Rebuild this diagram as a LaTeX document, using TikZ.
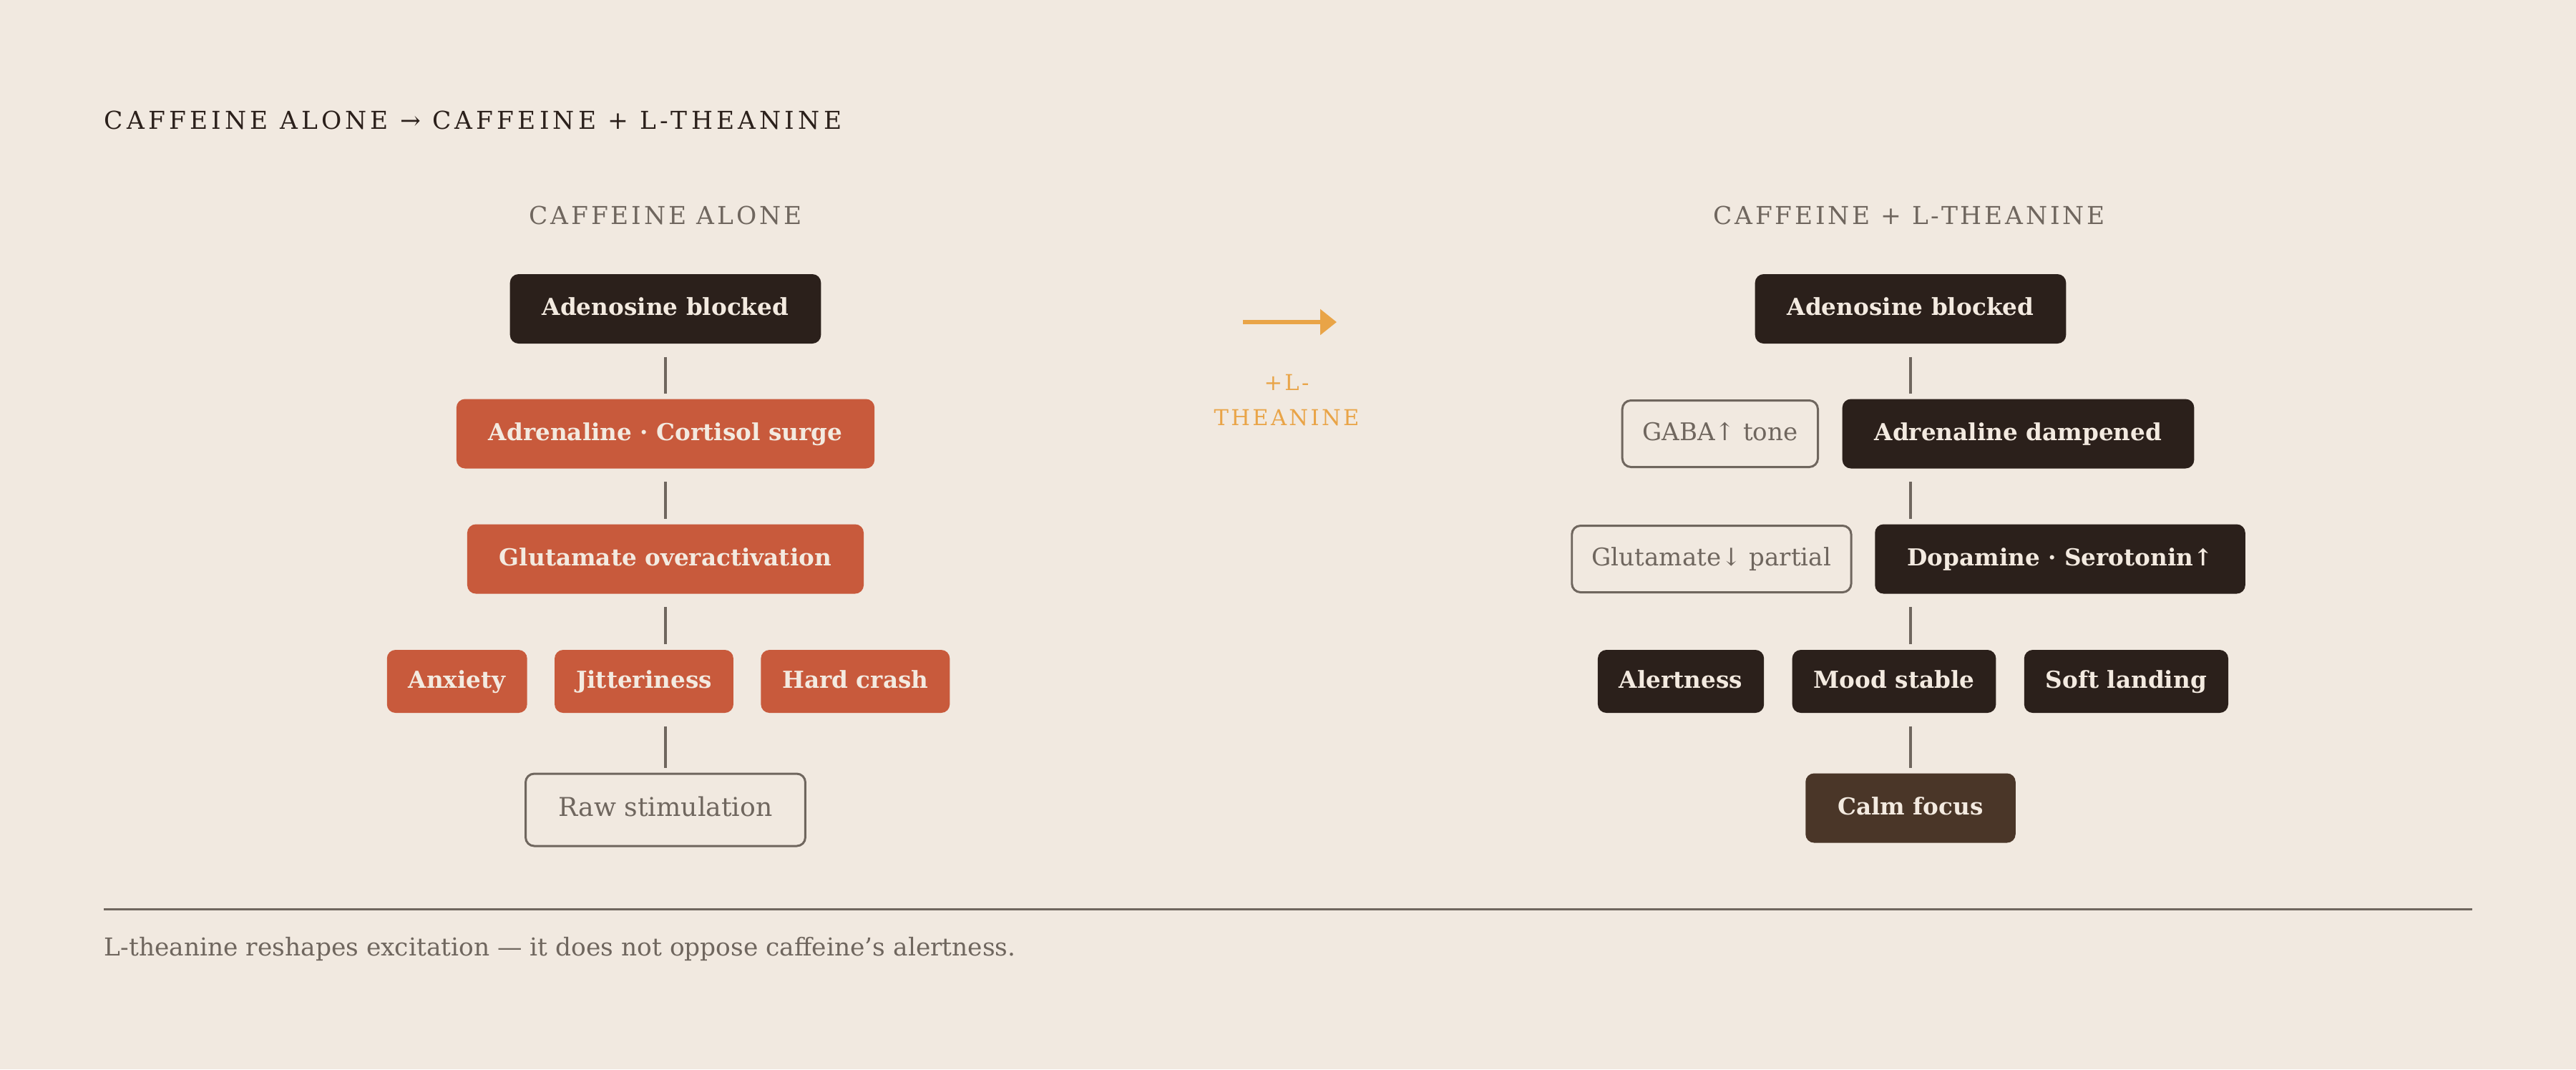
\documentclass[tikz,border=0pt]{standalone}
\usepackage{fontspec}
\setmainfont{DejaVu Serif}
\usepackage{tikz}
\usetikzlibrary{positioning,arrows.meta}
\definecolor{paper}{HTML}{F1E9E0}
\definecolor{ink}{HTML}{2B201B}
\definecolor{rust}{HTML}{C85A3C}
\definecolor{umber}{HTML}{4A3628}
\definecolor{stone}{HTML}{6F665E}
\definecolor{cream}{HTML}{F3EAE0}
\definecolor{amber}{HTML}{E9A447}
\newfontfamily\trackedfont[LetterSpace=15]{DejaVu Serif}
\newfontfamily\headfont[LetterSpace=11]{DejaVu Serif}

\begin{document}
\begin{tikzpicture}[
    font=\fontsize{9.7}{12}\selectfont,
    box/.style={rounded corners=0.12cm, minimum height=0.97cm, inner xsep=0.45cm, text height=0.74em, text depth=0.22em, text=cream, font=\fontsize{9.3}{12}\selectfont\bfseries},
    dark/.style={box, fill=ink},
    hot/.style={box, fill=rust},
    calm/.style={box, fill=umber},
    small/.style={minimum height=0.88cm, inner xsep=0.30cm},
    ghost/.style={rounded corners=0.12cm, draw=stone, line width=0.85pt, fill=paper, text=stone, minimum height=0.93cm, inner xsep=0.28cm, text height=0.74em, text depth=0.22em},
    heading/.style={inner sep=0, text=stone, font=\fontsize{9.8}{12}\selectfont\headfont},
    link/.style={draw=stone, line width=1pt, shorten <=0.18cm, shorten >=0.07cm}
  ]
  \fill[paper] (0,0) rectangle (36,-14.94);
  \useasboundingbox (0,0) rectangle (36,-14.94);

  \node[anchor=west, inner sep=0, text=ink, font=\fontsize{9.8}{12}\selectfont\trackedfont] (title) at (1.45,-1.68) {CAFFEINE ALONE → CAFFEINE + L-THEANINE};
  \node[heading] (lhead) at (9.30,-3.01) {CAFFEINE ALONE};
  \node[heading] (rhead) at (26.68,-3.01) {CAFFEINE + L-THEANINE};

  \coordinate (lcol) at (9.30,0);
  \node[dark] (la) at (9.30,-4.315) {Adenosine blocked};
  \node[hot] (lb) at (9.30,-6.06) {Adrenaline · Cortisol surge};
  \node[hot] (lc) at (9.30,-7.81) {Glutamate overactivation};
  \node[hot, small] (ljit) at (9.00,-9.52) {Jitteriness};
  \node[hot, small, left=0.37cm of ljit] (lanx) {Anxiety};
  \node[hot, small, right=0.37cm of ljit] (lcrash) {Hard crash};
  \node[ghost, inner xsep=0.46cm, minimum height=1.01cm, font=\fontsize{10.3}{12}\selectfont] (lraw) at (9.30,-11.315) {Raw stimulation};
  \foreach \a/\b in {la/lb, lb/lc, lc/ljit, ljit/lraw}
    \draw[link] (\a.south -| lcol) -- (\b.north -| lcol);

  \coordinate (arrfrom) at (17.37,-4.50);
  \coordinate (arrto) at (18.68,-4.50);
  \draw[amber, line width=1.7pt, -{Triangle[length=0.23cm, width=0.35cm]}] (arrfrom) -- (arrto);
  \node[inner sep=0, text=amber, align=center, font=\fontsize{8.7}{13.7}\selectfont\headfont] (arrlabel) at (17.98,-5.59) {+L-\\THEANINE};

  \coordinate (rcol) at (26.70,0);
  \node[dark] (ra) at (26.70,-4.315) {Adenosine blocked};
  \node[dark] (rb) at (28.205,-6.06) {Adrenaline dampened};
  \node[ghost, left=0.32cm of rb] (rgaba) {GABA↑ tone};
  \node[dark] (rc) at (28.79,-7.81) {Dopamine · Serotonin↑};
  \node[ghost, left=0.31cm of rc] (rglu) {Glutamate↓ partial};
  \node[dark, small] (rmood) at (26.47,-9.52) {Mood stable};
  \node[dark, small, left=0.38cm of rmood] (ralert) {Alertness};
  \node[dark, small, right=0.38cm of rmood] (rsoft) {Soft landing};
  \node[calm] (rcalm) at (26.70,-11.29) {Calm focus};
  \foreach \a/\b in {ra/rb, rb/rc, rc/rmood, rmood/rcalm}
    \draw[link] (\a.south -| rcol) -- (\b.north -| rcol);

  \coordinate (rulel) at (1.45,-12.70);
  \coordinate (ruler) at (34.55,-12.70);
  \draw[stone, line width=0.85pt] (rulel) -- (ruler);
  \node[anchor=base west, inner sep=0, text=stone, font=\fontsize{9.8}{12}\selectfont] (note) at (1.45,-13.35) {L-theanine reshapes excitation — it does not oppose caffeine's alertness.};
\end{tikzpicture}
\end{document}
